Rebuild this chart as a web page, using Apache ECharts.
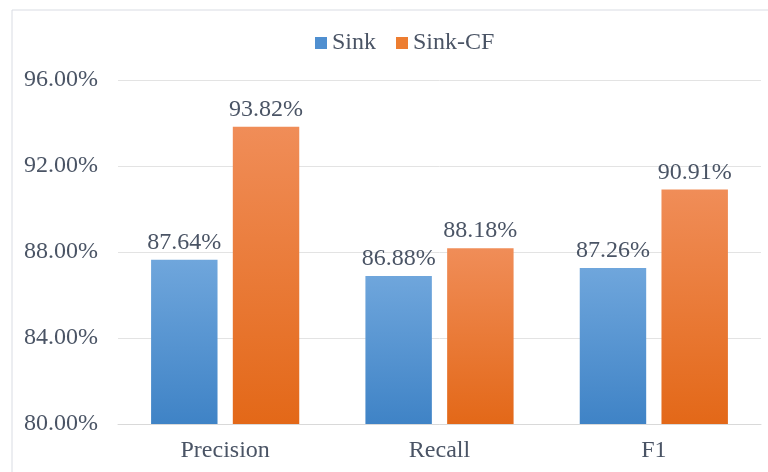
<!DOCTYPE html>
<html>
<head>
<meta charset="utf-8">
<script src="https://cdn.jsdelivr.net/npm/echarts@6/dist/echarts.min.js"></script>
<style>
  html, body { margin: 0; padding: 0; background: #fff; }
  #chart { width: 768px; height: 472px; }
</style>
</head>
<body>
<div id="chart"></div>
<script>
var categories = ['Precision', 'Recall', 'F1'];
var sinkValues = [87.64, 86.88, 87.26];
var sinkCfValues = [93.82, 88.18, 90.91];
var yTicks = [80, 84, 88, 92, 96];

var textColor = '#4a5465';
var font = '"Liberation Serif", "Times New Roman", serif';

function grad(top, bottom) {
    return new echarts.graphic.LinearGradient(0, 0, 0, 1, [
        {offset: 0, color: top},
        {offset: 1, color: bottom}
    ]);
}

function pct(v) {
    return v.toFixed(2) + '%';
}

var chart = echarts.init(document.getElementById('chart'));
var option = {
    animation: false,
    textStyle: {fontFamily: font},
    graphic: [{
        type: 'rect',
        shape: {x: 12, y: 10, width: 800, height: 500},
        style: {fill: 'none', stroke: '#d9dce3', lineWidth: 1}
    }],
    legend: {
        top: 26,
        left: 310,
        itemWidth: 12,
        itemHeight: 12,
        itemGap: 20,
        icon: 'rect',
        textStyle: {fontFamily: font, fontSize: 24, color: textColor},
        data: [
            {name: 'Sink', itemStyle: {color: '#4f8fd0'}},
            {name: 'Sink-CF', itemStyle: {color: '#ed7d31'}}
        ]
    },
    grid: {
        left: 118,
        right: 7,
        top: 80,
        bottom: 48
    },
    xAxis: {
        type: 'category',
        data: categories,
        axisLine: {lineStyle: {color: '#d9d9d9'}},
        axisTick: {show: false},
        axisLabel: {fontSize: 24, color: textColor, margin: 15, fontFamily: font}
    },
    yAxis: {
        type: 'value',
        min: yTicks[0],
        max: yTicks[yTicks.length - 1],
        interval: 4,
        axisLine: {show: false},
        axisTick: {show: false},
        splitLine: {lineStyle: {color: '#e3e3e3'}},
        axisLabel: {
            fontSize: 24, color: textColor, margin: 20, fontFamily: font,
            formatter: pct
        }
    },
    series: [{
        name: 'Sink',
        type: 'bar',
        data: sinkValues,
        barWidth: '31%',
        barGap: '23%',
        itemStyle: {color: grad('#6fa6dc', '#3f83c6')},
        label: {
            show: true, position: 'top', distance: 5,
            fontSize: 24, color: textColor, fontFamily: font,
            formatter: function (p) { return pct(p.value); }
        }
    }, {
        name: 'Sink-CF',
        type: 'bar',
        data: sinkCfValues,
        barWidth: '31%',
        itemStyle: {color: grad('#f08d58', '#e36818')},
        label: {
            show: true, position: 'top', distance: 5,
            fontSize: 24, color: textColor, fontFamily: font,
            formatter: function (p) { return pct(p.value); }
        }
    }]
};
chart.setOption(option);
</script>
</body>
</html>
